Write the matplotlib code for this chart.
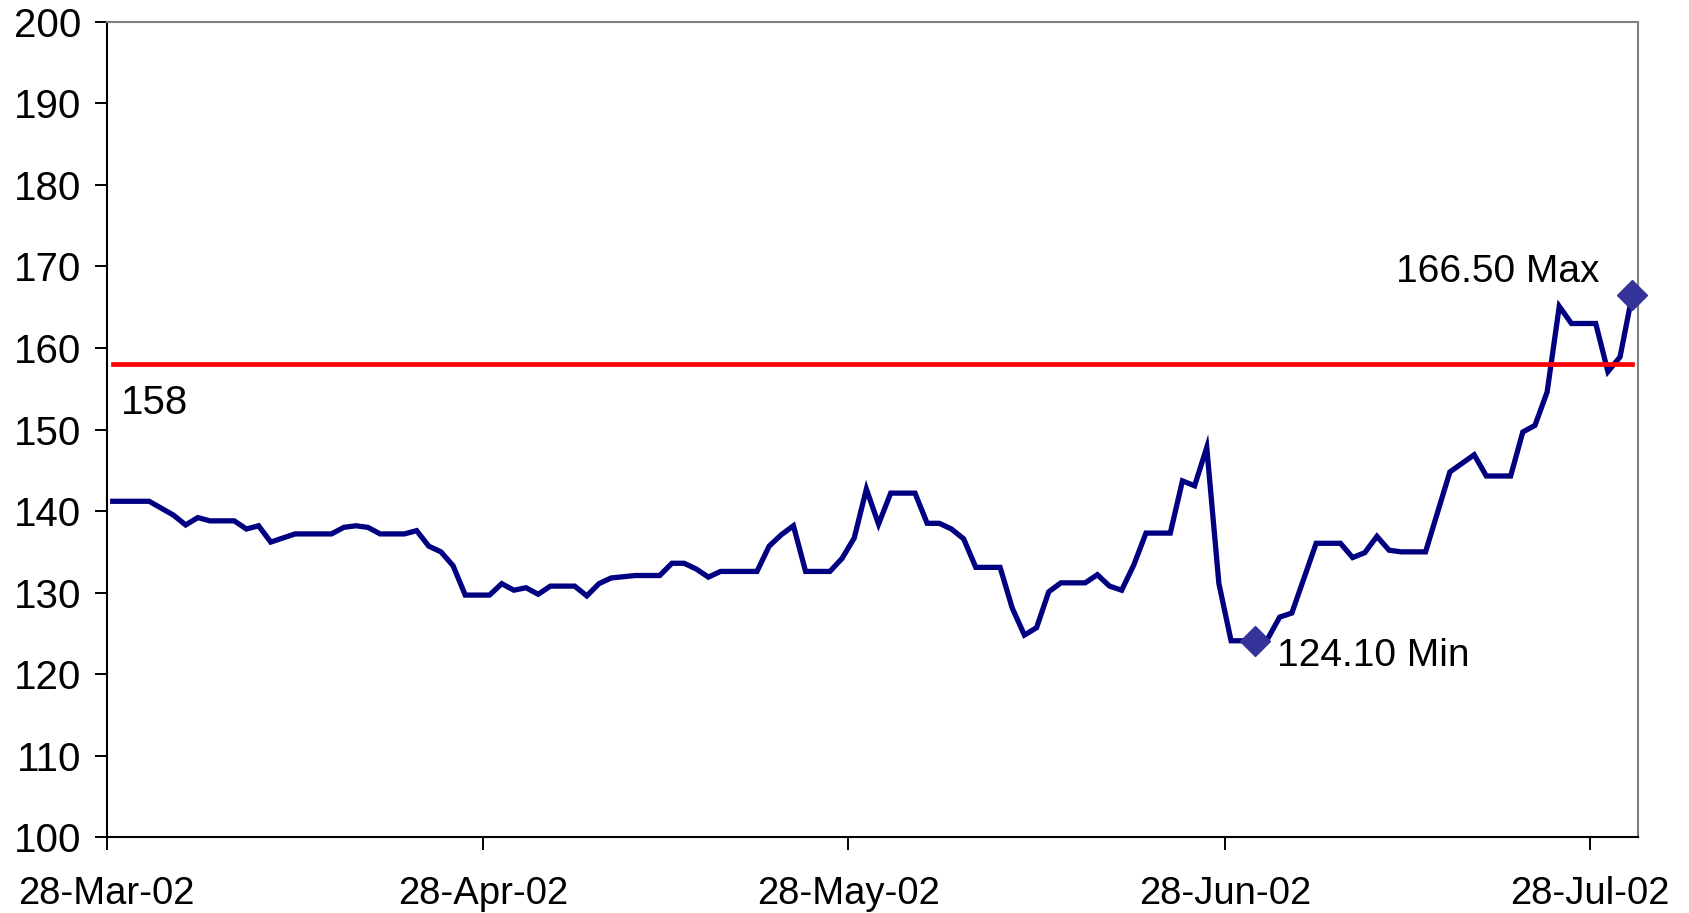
import numpy as np
import pandas as pd
import matplotlib
matplotlib.use("Agg")
import matplotlib.pyplot as plt
import matplotlib.dates as mdates

plt.rcParams['font.family'] = ['Liberation Sans', 'DejaVu Sans']

# — DATA —
dates = ["2002-03-28", "2002-03-31", "2002-04-02", "2002-04-03", "2002-04-04",
         "2002-04-05", "2002-04-07", "2002-04-08", "2002-04-09", "2002-04-10",
         "2002-04-12", "2002-04-15", "2002-04-16", "2002-04-17", "2002-04-18",
         "2002-04-19", "2002-04-21", "2002-04-22", "2002-04-23", "2002-04-24",
         "2002-04-25", "2002-04-26", "2002-04-28", "2002-04-29", "2002-04-30",
         "2002-05-01", "2002-05-02", "2002-05-03", "2002-05-05", "2002-05-06",
         "2002-05-07", "2002-05-08", "2002-05-10", "2002-05-12", "2002-05-13",
         "2002-05-14", "2002-05-15", "2002-05-16", "2002-05-17", "2002-05-20",
         "2002-05-21", "2002-05-22", "2002-05-23", "2002-05-24", "2002-05-26",
         "2002-05-27", "2002-05-28", "2002-05-29", "2002-05-30", "2002-05-31",
         "2002-06-02", "2002-06-03", "2002-06-04", "2002-06-05", "2002-06-06",
         "2002-06-07", "2002-06-09", "2002-06-10", "2002-06-11", "2002-06-12",
         "2002-06-13", "2002-06-14", "2002-06-16", "2002-06-17", "2002-06-18",
         "2002-06-19", "2002-06-20", "2002-06-21", "2002-06-23", "2002-06-24",
         "2002-06-25", "2002-06-26", "2002-06-27", "2002-06-28", "2002-06-30",
         "2002-07-01", "2002-07-02", "2002-07-03", "2002-07-05", "2002-07-07",
         "2002-07-08", "2002-07-09", "2002-07-10", "2002-07-11", "2002-07-12",
         "2002-07-14", "2002-07-16", "2002-07-18", "2002-07-19", "2002-07-21",
         "2002-07-22", "2002-07-23", "2002-07-24", "2002-07-25", "2002-07-26",
         "2002-07-28", "2002-07-29", "2002-07-30", "2002-07-31"]
values = [141.2, 141.2, 139.5, 138.3, 139.2,
          138.8, 138.8, 137.8, 138.2, 136.2,
          137.2, 137.2, 138.0, 138.2, 138.0,
          137.2, 137.2, 137.6, 135.7, 135.0,
          133.3, 129.7, 129.7, 131.1, 130.3,
          130.6, 129.8, 130.8, 130.8, 129.6,
          131.1, 131.8, 132.1, 132.1, 133.6,
          133.6, 132.9, 131.9, 132.6, 132.6,
          135.7, 137.1, 138.2, 132.6, 132.6,
          134.2, 136.7, 142.7, 138.4, 142.2,
          142.2, 138.5, 138.5, 137.8, 136.6,
          133.1, 133.1, 128.1, 124.8, 125.7,
          130.1, 131.2, 131.2, 132.2, 130.8,
          130.3, 133.4, 137.3, 137.3, 143.7,
          143.1, 147.8, 131.1, 124.1, 124.1,
          124.3, 127.0, 127.5, 136.05, 136.05,
          134.3, 134.9, 136.9, 135.2, 135.0,
          135.0, 144.8, 146.9, 144.3, 144.3,
          149.7, 150.5, 154.6, 165.1, 163.0,
          163.0, 157.1, 158.9, 166.5]
LEVEL = 158
tick_dates = ["2002-03-28", "2002-04-28", "2002-05-28", "2002-06-28", "2002-07-28"]

# points sit mid-day, like the spreadsheet date axis
t = pd.to_datetime(dates) + pd.Timedelta(hours=12)
v = np.array(values)

i_min = np.where(v == v.min())[0][-1]
i_max = int(np.argmax(v))

fig = plt.figure(figsize=(16.9, 9.13), dpi=100)
ax = fig.add_axes([0.0631, 0.0829, 0.9063, 0.8933])

ax.plot(t, v, color="#000080", lw=3.8, solid_joinstyle="miter", zorder=3)
ax.plot([t[0], t[-1]], [LEVEL, LEVEL], color="#FF0000", lw=3.4, zorder=4)
ax.plot([t[i_min], t[i_max]], [v[i_min], v[i_max]], ls="none", marker="D",
        ms=15, color="#333399", zorder=5, clip_on=False)

ax.annotate(f"{v[i_max]:.2f} Max", (t[i_max], v[i_max]), xytext=(-33, 13),
            textcoords="offset pixels", ha="right", va="baseline", fontsize=28)
ax.annotate(f"{v[i_min]:.2f} Min", (t[i_min], v[i_min]), xytext=(22, -25),
            textcoords="offset pixels", ha="left", va="baseline", fontsize=28)
ax.annotate(f"{LEVEL}", (t[0], LEVEL), xytext=(8, -50),
            textcoords="offset pixels", ha="left", va="baseline", fontsize=29)

ax.set_ylim(100, 200)
ax.set_yticks(np.arange(100, 201, 10))
ax.set_xlim(pd.Timestamp("2002-03-28"), pd.Timestamp("2002-08-01"))
ax.set_xticks(pd.to_datetime(tick_dates))
ax.xaxis.set_major_formatter(mdates.DateFormatter("%d-%b-%y"))

ax.tick_params(axis="y", direction="out", length=8.5, width=1.4, pad=10, labelsize=29)
ax.tick_params(axis="x", direction="out", length=9, width=1.4, pad=19, labelsize=27.5)

for s in ["left", "bottom"]:
    ax.spines[s].set_color("black")
    ax.spines[s].set_linewidth(1.5)
for s in ["top", "right"]:
    ax.spines[s].set_color("#808080")
    ax.spines[s].set_linewidth(1.5)

fig.savefig("out.png", dpi=100)
